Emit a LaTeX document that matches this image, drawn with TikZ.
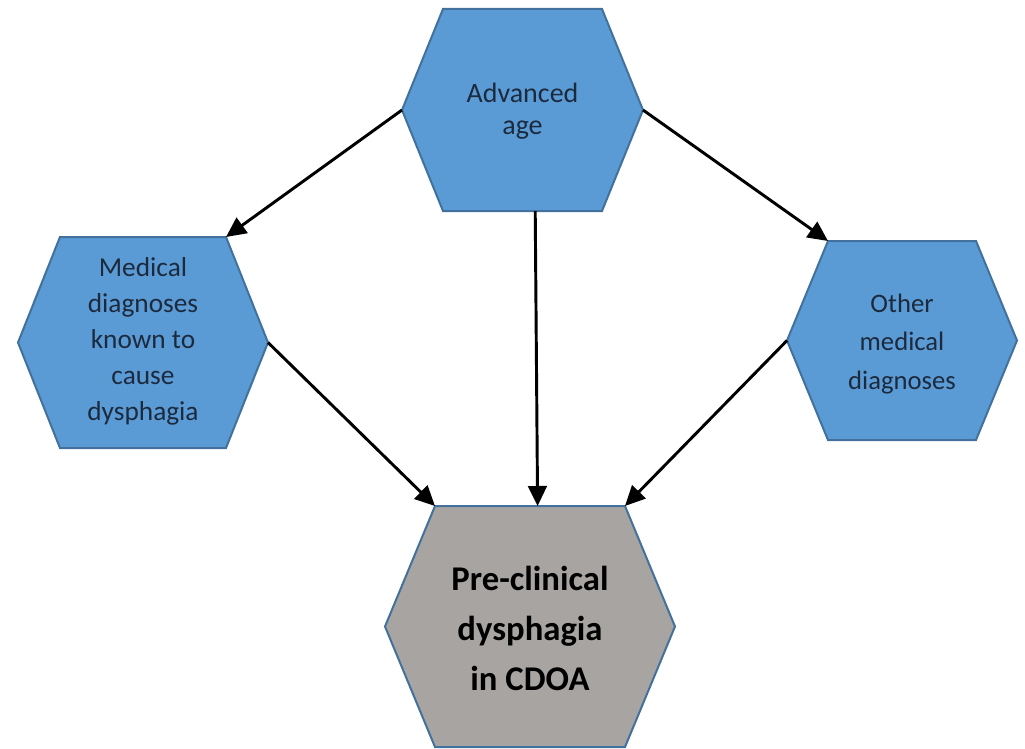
\documentclass[tikz,border=0pt]{standalone}
\usepackage{fontspec}
\setmainfont{Carlito}
\usetikzlibrary{arrows.meta,calc}

\definecolor{hexblue}{HTML}{5B9BD5}
\definecolor{hexedge}{HTML}{41719C}
\definecolor{hexgray}{HTML}{A8A4A2}
\definecolor{labelnavy}{HTML}{1C2A3E}

% #1 name, #2 cx, #3 cy, #4 half width, #5 half height, #6 slant, #7 fill
\newcommand{\hexblock}[7]{%
  \coordinate (#1-l)  at (#2-#4,#3);
  \coordinate (#1-tl) at (#2-#4+#6,#3-#5);
  \coordinate (#1-tr) at (#2+#4-#6,#3-#5);
  \coordinate (#1-r)  at (#2+#4,#3);
  \coordinate (#1-br) at (#2+#4-#6,#3+#5);
  \coordinate (#1-bl) at (#2-#4+#6,#3+#5);
  \filldraw[hexframe, fill=#7] (#1-l) -- (#1-tl) -- (#1-tr) -- (#1-r)
    -- (#1-br) -- (#1-bl) -- cycle;
}

\tikzset{
  hexframe/.style={draw=hexedge, line width=1.5pt, line join=miter},
  bluetext/.style={align=center, text=labelnavy},
  link/.style={draw=black, line width=2.2pt,
    -{Triangle[length=15pt, width=14pt]}}
}

\begin{document}
\begin{tikzpicture}[x=0.75pt, y=-0.75pt]
  \useasboundingbox[fill=white] (0,0) rectangle (1025,749);

  \hexblock{age}{522.5}{110}{120.5}{101}{41}{hexblue}
  \hexblock{known}{143}{342.5}{125}{105.5}{42}{hexblue}
  \hexblock{other}{902}{340.5}{115}{99.5}{41}{hexblue}
  \hexblock{pre}{530}{626.5}{145}{120.5}{50}{hexgray}

  \node[bluetext, font=\fontsize{21}{24}\selectfont] (agetext) at (522.5,111)
    {Advanced\\age};
  \node[bluetext, font=\fontsize{20.5}{27}\selectfont] (knowntext) at (143,341)
    {Medical\\diagnoses\\known to\\cause\\dysphagia};
  \node[bluetext, font=\fontsize{20}{29}\selectfont] (othertext) at (902,344)
    {Other\\medical\\diagnoses};
  \node[align=center, text=black, font=\fontsize{26}{37.5}\bfseries\selectfont]
    (pretext) at (530,628) {Pre-clinical\\dysphagia\\in CDOA};

  \coordinate (age-b) at ($(age-bl)!0.58!(age-br)$);
  \coordinate (pre-t) at ($(pre-tl)!0.54!(pre-tr)$);

  \draw[link] (age-l) -- (known-tr);
  \draw[link] (age-r) -- (other-tl);
  \draw[link] (age-b) -- (pre-t);
  \draw[link] (known-r) -- (pre-tl);
  \draw[link] (other-l) -- (pre-tr);
\end{tikzpicture}
\end{document}
